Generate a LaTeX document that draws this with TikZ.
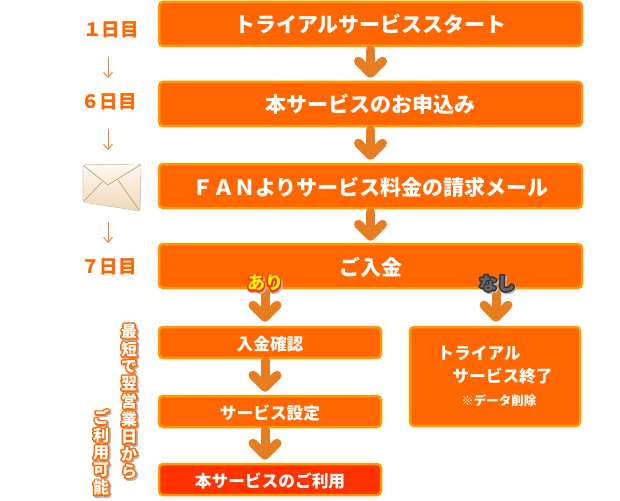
\documentclass[tikz,border=0pt]{standalone}
\usepackage{fontspec}
\usetikzlibrary{arrows.meta}
\setmainfont{Noto Sans CJK JP}
\definecolor{FlowOrange}{HTML}{ff6600}
\definecolor{FlowEdge}{HTML}{ff9900}
\definecolor{FlowRed}{HTML}{ff3300}
\definecolor{FlowArrow}{HTML}{e87c20}
\definecolor{FlowShadow}{HTML}{b8b8b8}
\definecolor{MailEdge}{HTML}{c9a26a}
\definecolor{MailLight}{HTML}{fdf8f2}
\definecolor{MailDark}{HTML}{f0d8b8}
\definecolor{NashiText}{HTML}{666666}
\newcommand{\strokedtext}[2]{\special{pdf:code q 1 Tr 3 w 1 J 1 j #1 RG}#2\special{pdf:code Q}}
\newcommand{\shadowtext}[3]{\rlap{\raisebox{-1.5pt}{\hspace{1.5pt}\strokedtext{.72 .72 .72}{#3}}}\rlap{\strokedtext{#1}{#3}}{\color{#2}#3}}
\tikzstyle{flow-box}=[draw=FlowEdge, fill=FlowOrange, line width=2.5pt, rounded corners=4pt, text=white, inner sep=0pt]
\tikzstyle{big-box}=[flow-box, font=\fontsize{21}{24}\selectfont\bfseries, minimum width=423pt, minimum height=44pt, text height=18pt, text depth=0pt]
\tikzstyle{small-box}=[flow-box, font=\fontsize{16.7}{20}\selectfont\bfseries, minimum width=222pt, minimum height=31pt, text height=15pt, text depth=0pt]
\tikzstyle{end-box}=[flow-box, font=\fontsize{16.7}{20}\selectfont\bfseries, minimum width=170pt, minimum height=99pt, align=left]
\tikzstyle{day-label}=[text=FlowOrange, inner sep=0pt, font=\fontsize{18.5}{20}\selectfont\bfseries]
\tikzstyle{side-label}=[inner sep=0pt, font=\fontsize{16}{16.6}\selectfont\bfseries]
\tikzstyle{tag-label}=[inner sep=0pt, font=\fontsize{18}{20}\selectfont\bfseries]
\tikzstyle{day-arrow}=[draw=FlowOrange!85, line width=1pt, -{Straight Barb[length=5pt,width=9pt]}]
\tikzstyle{flow-arrow}=[draw=FlowArrow, line width=9pt, -{Straight Barb[length=12pt,width=24pt,round]}, line cap=round, preaction={draw=FlowShadow, transform canvas={shift={(2pt,-2pt)}}}]

\begin{document}
\begin{tikzpicture}[x=1pt, y=-1pt]
      \useasboundingbox (0, 0) rectangle (620, 500);

      \node (day1) at (111, 30) [day-label] {１日目};
      \node (day6) at (109, 102) [day-label] {６日目};
      \node (day7) at (109, 267) [day-label] {７日目};
      \node (mail) at (112, 187) [minimum width=58pt, minimum height=46pt, inner sep=0pt] {};

      \fill[rounded corners=2pt, top color=MailLight, bottom color=MailDark, draw=MailEdge!50, line width=0.6pt]
            (83, 165) -- (141, 164) -- (140, 211) -- (83, 202) -- cycle;
      \draw[MailEdge, line width=0.7pt] (84, 166) -- (108, 185) -- (140, 165);
      \draw[MailEdge, line width=0.7pt] (84, 201) -- (102, 182);
      \draw[MailEdge, line width=0.7pt] (139, 210) -- (118, 180);

      \node (start) at (370.5, 24) [big-box] {トライアルサービススタート};
      \node (apply) at (370.5, 104) [big-box] {本サービスのお申込み};
      \node (bill) at (370.5, 186) [big-box] {ＦＡＮよりサービス料金の請求メール};
      \node (pay) at (370.5, 266) [big-box] {ご入金};
      \node (check) at (270, 342.5) [small-box] {入金確認};
      \node (setup) at (270, 411.5) [small-box] {サービス設定};
      \node (use) at (270, 479.5) [small-box, fill=FlowRed] {本サービスのご利用};
      \node (stop) at (495, 376.5) [end-box]
            {トライアル\\[3pt]\hspace{15pt}サービス終了\\[3pt]\hspace{24pt}{\fontsize{12.5}{15}\selectfont ※データ削除}};

      \coordinate (yes) at (265, 289);
      \coordinate (no) at (496, 289);

      \draw[day-arrow, shorten <=28pt, shorten >=14pt] (108, 29) -- (108, 92);
      \draw[day-arrow, shorten <=28pt, shorten >=14pt] (108, 101) -- (108, 164);
      \draw[day-arrow, shorten <=2pt, shorten >=14pt] (108, 220) -- (108, 257);

      \draw[flow-arrow, shorten <=3pt, shorten >=3pt] (start) -- (apply);
      \draw[flow-arrow, shorten <=3pt, shorten >=3pt] (apply) -- (bill);
      \draw[flow-arrow, shorten <=3pt, shorten >=2pt] (bill) -- (pay);
      \draw[flow-arrow, shorten <=4pt, shorten >=4pt] (yes) -- (yes |- check.north);
      \draw[flow-arrow, shorten <=4pt, shorten >=4pt] (no) -- (no |- stop.north);
      \draw[flow-arrow, shorten <=2pt, shorten >=3pt] (check.south -| yes) -- (setup.north -| yes);
      \draw[flow-arrow, shorten <=2pt, shorten >=3pt] (setup.south -| yes) -- (use.north -| yes);

      \node (ari) at (265, 284) [tag-label] {\shadowtext{1 .2 0}{yellow}{あり}};
      \node (nashi) at (497, 284) [tag-label] {\shadowtext{.2 .2 .2}{NashiText}{なし}};

      \node (soonest) at (129, 402) [side-label]
            {\shadowtext{1 .4 0}{white}{\shortstack{最\\短\\で\\翌\\営\\業\\日\\か\\ら}}};
      \node (usable) at (101, 453) [side-label]
            {\shadowtext{1 .4 0}{white}{\shortstack{ご\\利\\用\\可\\能}}};
\end{tikzpicture}
\end{document}
